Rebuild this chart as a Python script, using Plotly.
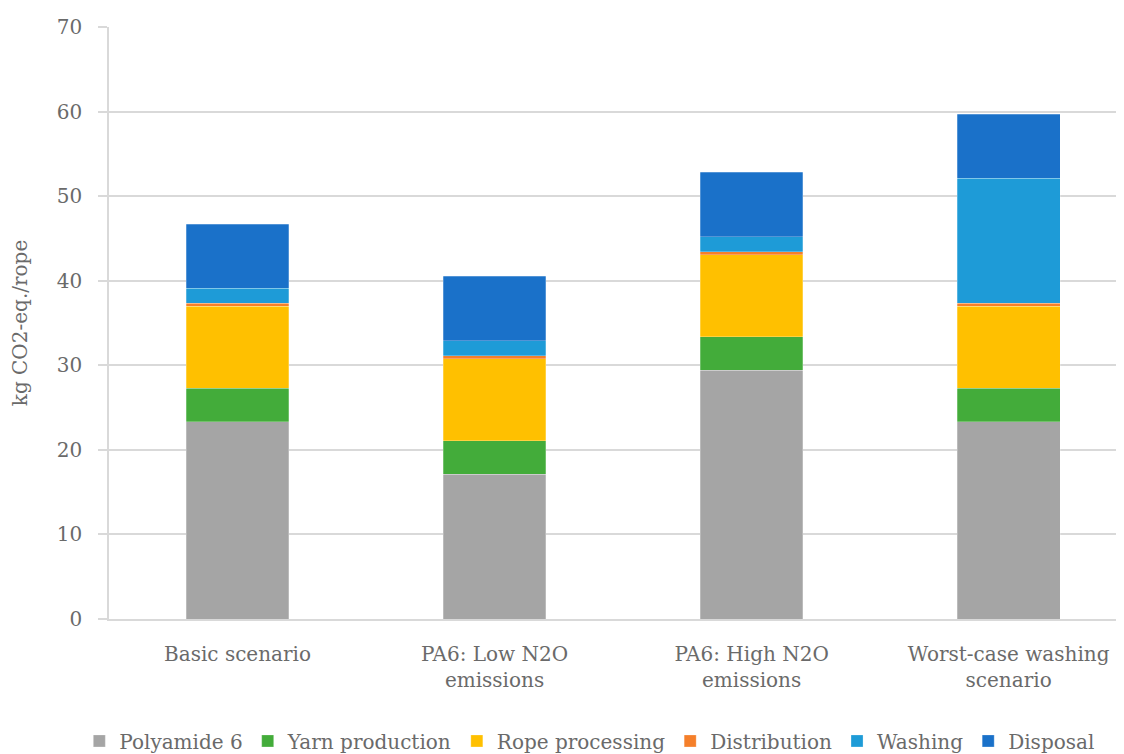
import plotly.graph_objects as go

categories = ["Basic scenario", "PA6: Low N2O<br>emissions", "PA6: High N2O<br>emissions", "Worst-case washing<br>scenario"]
polyamide6 = [23.3, 17.1, 29.4, 23.3]
yarn_production = [4.0, 4.0, 4.0, 4.0]
rope_processing = [9.7, 9.7, 9.7, 9.7]
distribution = [0.35, 0.35, 0.35, 0.35]
washing = [1.75, 1.75, 1.75, 14.75]
disposal = [7.6, 7.6, 7.6, 7.6]

series = [
    ("Polyamide 6", polyamide6, "#A5A5A5"),
    ("Yarn production", yarn_production, "#43AC3A"),
    ("Rope processing", rope_processing, "#FFC000"),
    ("Distribution", distribution, "#F57F2A"),
    ("Washing", washing, "#1E9BD7"),
    ("Disposal", disposal, "#1A71C9"),
]

FONT = "DejaVu Serif, serif"
TXT = "#6A6A6A"

fig = go.Figure()
for name, vals, col in series:
    fig.add_trace(go.Bar(
        name=name, x=list(range(len(categories))), y=vals, width=0.4,
        marker=dict(color=col, line=dict(color="rgba(255,255,255,0.5)", width=0.5)),
    ))

fig.update_layout(
    barmode="stack",
    width=1124, height=754,
    margin=dict(l=101, r=0, t=19, b=143),
    paper_bgcolor="white", plot_bgcolor="white",
    font=dict(family=FONT, size=20, color=TXT),
    legend=dict(orientation="h", x=0.47, xanchor="center", y=-0.206, yanchor="middle",
                font=dict(family=FONT, size=20, color=TXT),
                itemwidth=30, tracegroupgap=0, traceorder="normal"),
    showlegend=True,
)
fig.update_xaxes(
    tickmode="array", tickvals=list(range(len(categories))), ticktext=categories,
    range=[-0.5, 3.48], showline=True, linecolor="#D9D9D9", linewidth=1.5,
    showgrid=False, ticks="", tickfont=dict(size=20), fixedrange=True,
    ticklabelstandoff=16,
)
fig.update_yaxes(
    range=[0, 70], dtick=10, showgrid=True, gridcolor="#D9D9D9", gridwidth=1.5,
    showline=True, linecolor="#D9D9D9", linewidth=1.5,
    ticks="outside", ticklen=9, tickcolor="#D9D9D9", tickwidth=1.5,
    tickfont=dict(size=20), zeroline=False, ticklabelstandoff=12,
    title=dict(text="kg CO2-eq./rope", font=dict(size=20), standoff=24),
)

fig.write_html("out.html")
